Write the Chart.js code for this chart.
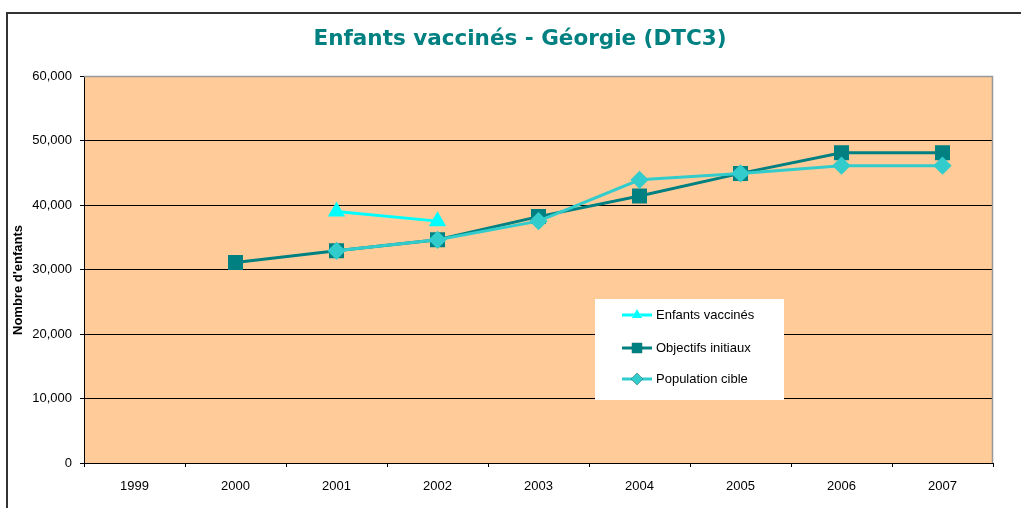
<!DOCTYPE html>
<html>
<head>
<meta charset="utf-8">
<script src="https://cdn.jsdelivr.net/npm/chart.js@4"></script>
<style>
  html, body { margin: 0; padding: 0; background: #fff; }
  #wrap { width: 1021px; height: 508px; }
</style>
</head>
<body>
<div id="wrap"><canvas id="line-chart" width="1021" height="508"></canvas></div>
<script>
// donnees
const chartTitle = "Enfants vaccinés - Géorgie (DTC3)";
const yTitle = "Nombre d'enfants";
const years = ["1999", "2000", "2001", "2002", "2003", "2004", "2005", "2006", "2007"];
const enfantsVaccines = [null, null, 39000, 37500, null, null, null, null, null];
const objectifsInitiaux = [null, 31100, 32900, 34600, 38200, 41400, 44900, 48100, 48100];
const populationCible = [null, null, 32900, 34600, 37500, 43900, 44900, 46100, 46100];
const yTicks = [0, 10000, 20000, 30000, 40000, 50000, 60000];

const tickFont = { family: "'Liberation Sans', Arial, sans-serif", size: 13 };

// fond du cadre, bordure exterieure et titres
const backgroundPlugin = {
  id: "plotBackground",
  beforeDraw(chart) {
    const { ctx, chartArea } = chart;
    ctx.save();
    ctx.strokeStyle = "#333";
    ctx.lineWidth = 2;
    ctx.beginPath();
    ctx.moveTo(7, 508);
    ctx.lineTo(7, 13);
    ctx.lineTo(1021, 13);
    ctx.stroke();
    ctx.fillStyle = "#FFCC99";
    ctx.fillRect(chartArea.left, chartArea.top, chartArea.right - chartArea.left, chartArea.bottom - chartArea.top);

    // titre
    ctx.fillStyle = "#008080";
    ctx.font = "bold 21.5px 'DejaVu Sans', Verdana, sans-serif";
    ctx.textAlign = "center";
    ctx.textBaseline = "middle";
    ctx.fillText(chartTitle, 520, 39);

    // titre axe y
    ctx.translate(18, 280);
    ctx.rotate(-Math.PI / 2);
    ctx.fillStyle = "#000";
    ctx.font = "bold 13px 'Liberation Sans', Arial, sans-serif";
    ctx.fillText(yTitle, 0, 0);
    ctx.restore();
  },
  beforeDatasetsDraw(chart) {
    const { ctx, chartArea } = chart;
    ctx.save();
    ctx.strokeStyle = "#999";
    ctx.lineWidth = 1.5;
    ctx.beginPath();
    ctx.moveTo(chartArea.left, chartArea.top + 0.5);
    ctx.lineTo(chartArea.right - 0.5, chartArea.top + 0.5);
    ctx.lineTo(chartArea.right - 0.5, chartArea.bottom);
    ctx.stroke();
    ctx.restore();
  },
};

// legende dans un cadre blanc a l'interieur du graphique
const boxLegendPlugin = {
  id: "boxLegend",
  afterDraw(chart) {
    const { ctx } = chart;
    const box = { x: 595, y: 299, w: 189, h: 101 };
    const rows = [315, 348, 379];
    ctx.save();
    ctx.fillStyle = "#fff";
    ctx.fillRect(box.x, box.y, box.w, box.h);
    chart.data.datasets.forEach((ds, i) => {
      const y = rows[i];
      ctx.strokeStyle = ds.borderColor;
      ctx.lineWidth = 3;
      ctx.beginPath();
      ctx.moveTo(622, y);
      ctx.lineTo(652, y);
      ctx.stroke();
      Chart.helpers.drawPoint(ctx, {
        pointStyle: ds.pointStyle,
        radius: ds.pointRadius * 0.85,
        borderWidth: 0,
        rotation: 0,
      }, 637, y);
      ctx.fillStyle = ds.pointBackgroundColor;
      ctx.fill();
      ctx.fillStyle = "#000";
      ctx.font = "13px 'Liberation Sans', Arial, sans-serif";
      ctx.textBaseline = "middle";
      ctx.fillText(ds.label, 656, y);
    });
    ctx.restore();
  },
};

const ctx = document.getElementById("line-chart").getContext("2d");
const myChart = new Chart(ctx, {
  type: "line",
  data: {
    labels: years,
    datasets: [
      {
        label: "Enfants vaccinés",
        data: enfantsVaccines,
        borderColor: "#00FFFF",
        backgroundColor: "#00FFFF",
        pointBackgroundColor: "#00FFFF",
        pointBorderColor: "#00FFFF",
        pointStyle: "triangle",
        pointRadius: 7,
        borderWidth: 3,
        order: 0,
      },
      {
        label: "Objectifs initiaux",
        data: objectifsInitiaux,
        borderColor: "#008080",
        backgroundColor: "#008080",
        pointBackgroundColor: "#008080",
        pointBorderColor: "#008080",
        pointStyle: "rect",
        pointRadius: 8.5,
        borderWidth: 3,
        order: 2,
      },
      {
        label: "Population cible",
        data: populationCible,
        borderColor: "#33CCCC",
        backgroundColor: "#33CCCC",
        pointBackgroundColor: "#33CCCC",
        pointBorderColor: "#33CCCC",
        pointStyle: "rectRot",
        pointRadius: 7,
        borderWidth: 3,
        order: 1,
      },
    ],
  },
  options: {
    responsive: false,
    animation: false,
    layout: { padding: { left: 0, right: 28, top: 76, bottom: 0 } },
    elements: { line: { tension: 0 }, point: { borderWidth: 0 } },
    plugins: {
      legend: { display: false },
      tooltip: { enabled: false },
      title: { display: false },
    },
    scales: {
      x: {
        offset: true,
        grid: { offset: true, drawOnChartArea: false, drawTicks: true, tickLength: 4, color: "#000" },
        border: { color: "#000", width: 1 },
        ticks: { color: "#000", font: tickFont, padding: 12, maxRotation: 0 },
        afterFit(scale) { scale.height = 45; },
      },
      y: {
        min: 0,
        max: 60000,
        afterBuildTicks(scale) { scale.ticks = yTicks.map((v) => ({ value: v })); },
        grid: { color: "#000", lineWidth: 1, tickLength: 4 },
        border: { color: "#000", width: 1 },
        ticks: {
          color: "#000",
          font: tickFont,
          padding: 8,
          callback: (v) => v.toLocaleString("en-US"),
        },
        afterFit(scale) { scale.width = 84; },
      },
    },
  },
  plugins: [backgroundPlugin, boxLegendPlugin],
});
</script>
</body>
</html>
